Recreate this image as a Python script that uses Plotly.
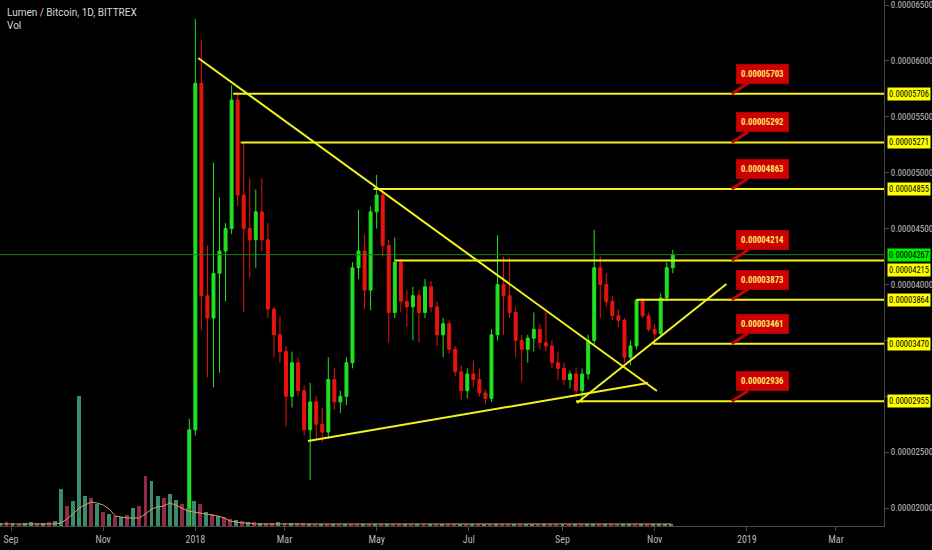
import plotly.graph_objects as go
import pandas as pd

# ---------------- price data (satoshi = 1e-8 BTC), 4-day candles ----------------
candle_start = "2017-12-24"
open_sat = [1200, 1450, 2700, 5800, 3900, 3700, 4100, 4300, 4500, 5650,
            4800, 4500, 4400, 4650, 4400, 3780, 3550, 3400, 3000, 3300,
            3050, 2700, 2950, 2750, 2680, 3150, 2950, 3000, 3300, 4150,
            4300, 3950, 4650, 4800, 4350, 3750, 4200, 3850, 3800, 3900,
            3750, 3980, 3800, 3550, 3650, 3420, 3220, 3050, 3200, 3150,
            3030, 2980, 3550, 4000, 3900, 3750, 3500, 3420, 3520, 3600,
            3480, 3450, 3300, 3250, 3150, 3200, 3050, 3200, 3500, 4150,
            4000, 3850, 3720, 3680, 3350, 3450, 3860, 3720, 3600, 3560,
            3880, 4150]
high_sat = [1500, 2800, 6375, 6190, 4350, 5090, 4780, 4550, 5780, 5720,
            5275, 4950, 4850, 4950, 4550, 3800, 3720, 3450, 3400, 3350,
            3100, 3120, 3000, 2900, 3350, 3250, 3050, 3350, 4200, 4670,
            4450, 4700, 4980, 4850, 4400, 4420, 4230, 3950, 3980, 3950,
            4050, 4030, 3850, 3700, 3680, 3450, 3280, 3250, 3320, 3250,
            3060, 3600, 4440, 4250, 4240, 3800, 3550, 3550, 3750, 3650,
            3760, 3500, 3400, 3300, 3230, 3260, 3250, 3550, 4490, 4250,
            4100, 3900, 3780, 3700, 3500, 3870, 3880, 3750, 3650, 3920,
            4200, 4310]
low_sat = [1150, 1400, 2650, 3590, 3170, 3080, 3210, 3850, 4450, 4700,
           3750, 4060, 4150, 4300, 3700, 3350, 3300, 2730, 2900, 3000,
           2650, 2250, 2620, 2590, 2620, 2880, 2850, 2920, 3250, 4050,
           3780, 3770, 4500, 4250, 3480, 3700, 3750, 3620, 3500, 3480,
           3700, 3750, 3450, 3350, 3380, 3180, 2970, 2980, 3080, 3000,
           2930, 2950, 3500, 3550, 3700, 3350, 3130, 3300, 3400, 3420,
           3400, 3250, 3150, 3100, 3070, 2990, 2940, 3150, 3450, 3700,
           3800, 3680, 3620, 3300, 3280, 3420, 3700, 3580, 3480, 3540,
           3850, 4100]
close_sat = [1450, 2700, 5800, 3900, 3700, 4100, 4300, 4500, 5650, 4800,
             4500, 4400, 4650, 4400, 3780, 3550, 3400, 3000, 3300, 3050,
             2700, 2950, 2750, 2680, 3150, 2950, 3000, 3300, 4150, 4300,
             3950, 4650, 4800, 4350, 3750, 4200, 3850, 3800, 3900, 3750,
             3980, 3800, 3550, 3650, 3420, 3220, 3050, 3200, 3150, 3030,
             2980, 3550, 4000, 3900, 3750, 3500, 3420, 3520, 3600, 3480,
             3450, 3300, 3250, 3150, 3200, 3050, 3200, 3500, 4150, 4000,
             3850, 3720, 3680, 3350, 3450, 3860, 3720, 3600, 3560, 3880,
             4150, 4267]

# ---------------- volume (millions, 4-day bins) ----------------
vol_start = "2017-08-25"
vol = [0.3, 0.4, 0.3, 0.2, 0.3, 0.4, 0.3, 0.3, 0.4, 0.5,
       3.7, 2.0, 2.5, 13.0, 3.0, 2.8, 2.2, 1.4, 1.2, 1.0,
       0.9, 1.1, 1.8, 2.0, 5.0, 4.5, 3.0, 2.8, 3.2, 2.6,
       2.2, 1.8, 2.5, 2.2, 1.4, 1.2, 1.0, 0.9, 0.7, 0.6,
       0.5, 0.4, 0.4, 0.3, 0.3, 0.3, 0.4, 0.3, 0.3, 0.3,
       0.3, 0.2, 0.2, 0.2, 0.2, 0.2, 0.2, 0.2, 0.2, 0.2,
       0.2, 0.2, 0.2, 0.2, 0.2, 0.2, 0.2, 0.2, 0.2, 0.2,
       0.2, 0.2, 0.2, 0.2, 0.2, 0.2, 0.2, 0.2, 0.2, 0.2,
       0.2, 0.2, 0.2, 0.2, 0.2, 0.2, 0.2, 0.2, 0.2, 0.2,
       0.2, 0.2, 0.2, 0.2, 0.2, 0.2, 0.2, 0.2, 0.2, 0.2,
       0.2, 0.2, 0.2, 0.2, 0.2, 0.2, 0.2, 0.2, 0.2, 0.2,
       0.2, 0.2]
vol_ma = [0.2, 0.2, 0.2, 0.2, 0.2, 0.2, 0.2, 0.2, 0.2, 0.2,
          0.3, 0.7, 1.2, 1.8, 2.1, 2.4, 2.3, 2.1, 1.7, 1.0,
          0.9, 0.8, 0.8, 0.8, 1.2, 1.7, 1.9, 2.0, 2.3, 2.1,
          1.8, 1.5, 1.4, 1.3, 1.2, 1.1, 1.0, 0.8, 0.5, 0.4,
          0.3, 0.3, 0.2, 0.2, 0.2, 0.2, 0.2, 0.2, 0.2, 0.2,
          0.2, 0.2, 0.2, 0.2, 0.2, 0.2, 0.2, 0.2, 0.2, 0.2,
          0.2, 0.2, 0.2, 0.2, 0.2, 0.2, 0.2, 0.2, 0.2, 0.2,
          0.2, 0.2, 0.2, 0.2, 0.2, 0.2, 0.2, 0.2, 0.2, 0.2,
          0.2, 0.2, 0.2, 0.2, 0.2, 0.2, 0.2, 0.2, 0.2, 0.2,
          0.2, 0.2, 0.2, 0.2, 0.2, 0.2, 0.2, 0.2, 0.2, 0.2,
          0.2, 0.2, 0.2, 0.2, 0.2, 0.2, 0.2, 0.2, 0.2, 0.2,
          0.2, 0.2]
vol_up = [1, 0, 1, 0, 1, 1, 0, 1, 0, 1,
          1, 0, 1, 1, 1, 0, 1, 0, 1, 0,
          1, 0, 1, 0, 0, 1, 1, 0, 1, 1,
          0, 1, 1, 0, 1, 0, 1, 0, 0, 1,
          0, 1, 0, 1, 0, 0, 1, 0, 1, 0,
          0, 1, 0, 1, 0, 1, 0, 1, 0, 0,
          1, 0, 1, 0, 1, 0, 0, 1, 0, 1,
          0, 1, 0, 1, 0, 0, 1, 0, 1, 0,
          1, 0, 1, 0, 0, 1, 0, 1, 1, 0,
          1, 0, 0, 1, 0, 1, 0, 1, 1, 0,
          1, 0, 0, 1, 1, 0, 1, 0, 1, 1,
          1, 1]

# ---------------- drawings ----------------
level_prices = [5706, 5271, 4855, 4215, 3864, 3470, 2955]
level_starts = ["2018-01-26", "2018-01-31", "2018-04-29", "2018-05-13",
                "2018-10-20", "2018-10-31", "2018-09-10"]
callout_texts = ["0.00005703", "0.00005292", "0.00004863", "0.00004214",
                 "0.00003873", "0.00003461", "0.00002936"]
callout_date = "2018-12-22"
last_price = 4267

trend_x0 = ["2018-01-02 20:00", "2018-03-16 14:00", "2018-09-10 14:00"]
trend_y0 = [6026, 2600, 2940]
trend_x1 = ["2018-11-02 12:00", "2018-10-27 14:00", "2018-12-18 12:00"]
trend_y1 = [3048, 3119, 4005]

x_tick_dates = ["2017-09-01", "2017-11-01", "2018-01-01", "2018-03-01", "2018-05-01",
                "2018-07-01", "2018-09-01", "2018-11-01", "2019-01-01", "2019-03-01"]
x_tick_text = ["Sep", "Nov", "2018", "Mar", "May", "Jul", "Sep", "Nov", "2019", "Mar"]
y_tick_sat = [2000, 2500, 3000, 3500, 4000, 4500, 5000, 5500, 6000, 6500]
y_tick_text = ["0.00002000", "0.00002500", "", "", "0.00004000", "0.00004500",
               "0.00005000", "0.00005500", "0.00006000", "0.00006500"]

SAT = 1e-8
X_RANGE = ["2017-08-24 17:00", "2019-04-01 19:00"]
Y_RANGE = [1840 * SAT, 6545 * SAT]

dates = pd.date_range(candle_start, periods=len(close_sat), freq="4D")
vol_dates = pd.date_range(vol_start, periods=len(vol), freq="4D")

GREEN = "#22e022"
RED = "#e8140f"
YELLOW = "#f2f21e"
LBL_FONT = "Liberation Sans Narrow, Roboto Condensed, Liberation Sans, Arial"

fig = go.Figure()

fig.add_trace(go.Bar(
    x=vol_dates, y=vol, yaxis="y2",
    marker=dict(color=["#3b8c6c" if u else "#8e2c48" for u in vol_up], line=dict(width=0)),
    width=2.6 * 86400000, hoverinfo="skip", showlegend=False))
fig.add_trace(go.Scatter(
    x=vol_dates, y=vol_ma, yaxis="y2", mode="lines",
    line=dict(color="#d99a62", width=1), hoverinfo="skip", showlegend=False))

fig.add_trace(go.Candlestick(
    x=dates,
    open=[v * SAT for v in open_sat], high=[v * SAT for v in high_sat],
    low=[v * SAT for v in low_sat], close=[v * SAT for v in close_sat],
    increasing=dict(line=dict(color=GREEN, width=1), fillcolor=GREEN),
    decreasing=dict(line=dict(color=RED, width=1), fillcolor=RED),
    whiskerwidth=0, showlegend=False))

shapes = []
shapes.append(dict(type="line", xref="paper", x0=0, x1=1, yref="y",
                   y0=last_price * SAT, y1=last_price * SAT,
                   line=dict(color="#1d7d1d", width=1)))
for p, s in zip(level_prices, level_starts):
    shapes.append(dict(type="line", xref="x", x0=s, x1=X_RANGE[1], yref="y",
                       y0=p * SAT, y1=p * SAT, line=dict(color=YELLOW, width=2)))
for a, b, c, d in zip(trend_x0, trend_y0, trend_x1, trend_y1):
    shapes.append(dict(type="line", xref="x", x0=a, x1=c, yref="y",
                       y0=b * SAT, y1=d * SAT, line=dict(color=YELLOW, width=2)))

annotations = []
annotations.append(dict(xref="paper", yref="paper", x=0.006, y=0.977, xanchor="left",
                        yanchor="middle", showarrow=False,
                        text="Lumen / Bitcoin, 1D, BITTREX",
                        font=dict(family="Roboto, Liberation Sans, Arial", size=10, color="#d8d8d8")))
annotations.append(dict(xref="paper", yref="paper", x=0.006, y=0.951, xanchor="left",
                        yanchor="middle", showarrow=False, text="Vol",
                        font=dict(family="Roboto, Liberation Sans, Arial", size=10, color="#d8d8d8")))
for p, t in zip(level_prices, callout_texts):
    annotations.append(dict(
        x=callout_date, y=p * SAT, xref="x", yref="y", text="<b>%s</b>" % t,
        showarrow=True, arrowhead=0, arrowwidth=3, arrowcolor="#c80000",
        ax=31, ay=-20, bgcolor="#cc0000", bordercolor="#b00000", borderwidth=1,
        borderpad=4, font=dict(family=LBL_FONT, size=8.8, color="#ffe566")))
for p in level_prices:
    annotations.append(dict(
        xref="paper", x=1, xanchor="left", xshift=3, yref="y", y=p * SAT,
        yanchor="middle", yshift=(-10 if p == 4215 else 0), showarrow=False,
        text="0.%08d" % p, bgcolor="#ffff00", borderpad=1,
        font=dict(family=LBL_FONT, size=8.5, color="#000000")))
annotations.append(dict(
    xref="paper", x=1, xanchor="left", xshift=3, yref="y", y=last_price * SAT,
    yanchor="middle", showarrow=False, text="0.%08d" % last_price,
    bgcolor="#00ee00", borderpad=1,
    font=dict(family=LBL_FONT, size=8.5, color="#000000")))

fig.update_layout(
    width=932, height=550,
    margin=dict(l=0, r=48, t=0, b=24),
    paper_bgcolor="#000000", plot_bgcolor="#000000",
    showlegend=False, bargap=0,
    font=dict(family="Liberation Sans, Arial", size=10, color="#b8b8b8"),
    shapes=shapes, annotations=annotations,
    xaxis=dict(type="date", range=X_RANGE, tickvals=x_tick_dates, ticktext=x_tick_text,
               showgrid=False, zeroline=False, showline=True, linecolor="#4a4a4a",
               ticks="outside", ticklen=4, tickcolor="#4a4a4a",
               tickfont=dict(family=LBL_FONT, size=10, color="#b8b8b8"),
               rangeslider=dict(visible=False)),
    yaxis=dict(side="right", range=Y_RANGE, tickvals=[v * SAT for v in y_tick_sat],
               ticktext=y_tick_text, showgrid=False, zeroline=False, showline=True,
               linecolor="#4a4a4a", ticks="outside", ticklen=4, tickcolor="#4a4a4a",
               ticklabeloverflow="allow",
               tickfont=dict(family=LBL_FONT, size=9, color="#c0c0c0")),
    yaxis2=dict(overlaying="y", range=[0, 52.6], visible=False, fixedrange=True),
)

fig.write_html("out.html", config={"displayModeBar": False},
               post_script="document.body.style.margin='0px';document.body.style.background='#000';")
